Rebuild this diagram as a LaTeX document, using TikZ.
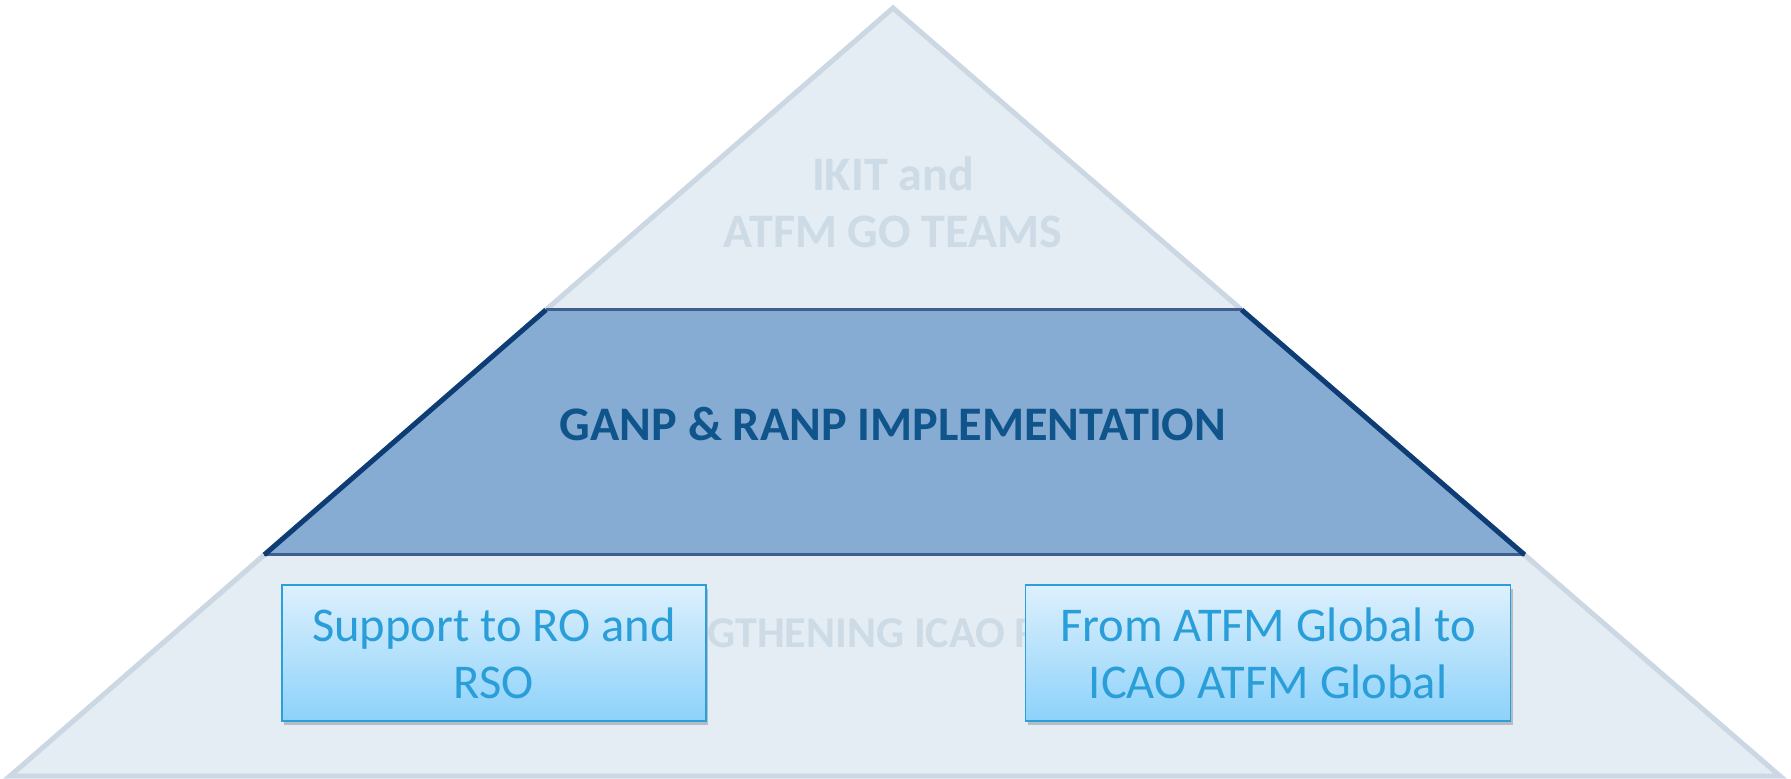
\documentclass[tikz,border=0pt]{standalone}
\usepackage{fontspec}
\setmainfont{Carlito}
\usepackage{tikz}
\usetikzlibrary{calc,shadows}
\definecolor{pyrfill}{RGB}{228,236,244}
\definecolor{pyredge}{RGB}{203,215,227}
\definecolor{pyrtext}{RGB}{204,219,230}
\definecolor{midfill}{RGB}{134,172,211}
\definecolor{midedge}{RGB}{14,60,116}
\definecolor{midline}{RGB}{62,95,142}
\definecolor{midtext}{RGB}{16,84,140}
\definecolor{boxtop}{RGB}{221,240,253}
\definecolor{boxbottom}{RGB}{141,210,250}
\definecolor{boxedge}{RGB}{42,159,218}
\definecolor{boxtext}{RGB}{42,158,216}
\newcommand{\pyrtextnode}[4] {\node at (#1) (#2) [align=center, text=pyrtext, font=\bfseries\fontsize{#3}{57}\selectfont] {#4};}
\newcommand{\pyrbox}[4] {\node at (#1) (#2) [rectangle, draw=boxedge, line width=1.5pt, top color=boxtop, bottom color=boxbottom, minimum width=#3, minimum height=136pt, align=center, text=boxtext, font=\fontsize{48.5}{57}\selectfont, drop shadow={shadow xshift=2pt, shadow yshift=-4pt, opacity=0.2, fill=black}] {#4};}

\begin{document}
\begin{tikzpicture}[x=1pt,y=-1pt]
\useasboundingbox (0,0) rectangle (1791,779);
\coordinate (apex) at (893,8);
\coordinate (bl) at (10,776);
\coordinate (br) at (1780,776);
\coordinate (tl) at ($(apex)!0.393!(bl)$);
\coordinate (tr) at ($(apex)!0.393!(br)$);
\coordinate (ml) at ($(apex)!0.712!(bl)$);
\coordinate (mr) at ($(apex)!0.712!(br)$);
% pyramid
\filldraw [fill=pyrfill, draw=pyredge, line width=5pt] (apex) -- (br) -- (bl) -- cycle;
% middle band
\fill [midfill] (tl) -- (tr) -- (mr) -- (ml) -- cycle;
\draw [midline, line width=3pt] (tl) -- (tr);
\draw [midline, line width=3pt] (ml) -- (mr);
\draw [midedge, line width=5pt] (tl) -- (ml);
\draw [midedge, line width=5pt] (tr) -- (mr);
% texts
\pyrtextnode{893,202}{goteams}{48}{IKIT and\\ATFM GO TEAMS}
\node at (893,424) (ganp) [text=midtext, font=\bfseries\fontsize{48.2}{50}\selectfont] {GANP \& RANP IMPLEMENTATION};
\node at (590,633) (strength) [anchor=west, inner sep=0pt, text=pyrtext, font=\bfseries\fontsize{44}{50}\selectfont] {STRENGTHENING ICAO ROLE};
% boxes
\pyrbox{494,653}{ro}{424pt}{Support to RO and\\RSO}
\pyrbox{1268,653}{global}{485pt}{From ATFM Global to\\ICAO ATFM Global}
\end{tikzpicture}
\end{document}
